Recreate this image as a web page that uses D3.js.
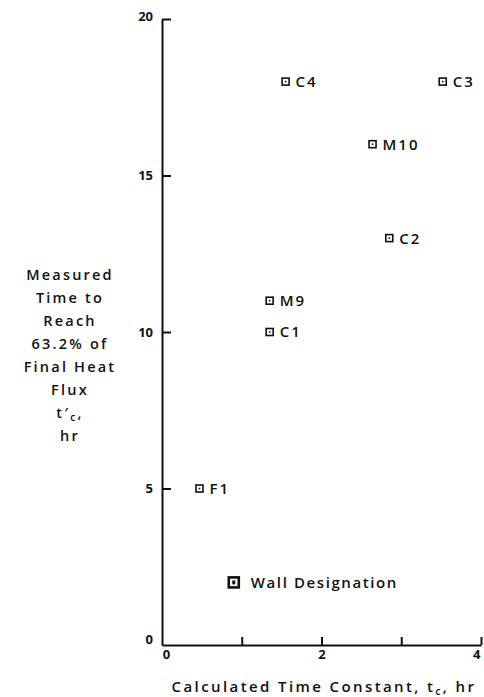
<!DOCTYPE html>
<html>
<head>
<meta charset="utf-8">
<script src="https://cdn.jsdelivr.net/npm/d3@7"></script>
<style>
  html, body { margin: 0; padding: 0; background: #fff; }
  svg { display: block; }
  text { font-family: "Open Sans", "DejaVu Sans", sans-serif; font-weight: 600; fill: #111; }
</style>
</head>
<body>
<svg id="chart" width="484" height="697"></svg>
<script>
// Wall designations with calculated and measured time constants (hr)
const walls = ["C4", "C3", "M10", "C2", "M9", "C1", "F1"];
const calcTc = [1.55, 3.52, 2.64, 2.85, 1.35, 1.35, 0.47];
const measTc = [18, 18, 16, 13, 11, 10, 5];

const xTicks = [0, 1, 2, 3, 4];
const xTickLabels = ["0", "", "2", "", "4"];
const yTicks = [0, 5, 10, 15, 20];
const yTickLabels = ["0", "5", "10", "15", "20"];

const yLabelLines = ["Measured", "Time to", "Reach", "63.2% of", "Final Heat", "Flux"];

const svg = d3.select("#chart");
const ink = "#111";

const x = d3.scaleLinear().domain([0, 4]).range([162, 481]);
const y = d3.scaleLinear().domain([0, 20]).range([645, 19]);

// y axis: ticks point into the plot
const yAxis = svg.append("g")
  .attr("transform", `translate(${x(0)},0)`)
  .call(d3.axisLeft(y).tickValues(yTicks).tickSize(-9).tickSizeOuter(0)
    .tickPadding(9).tickFormat((d, i) => yTickLabels[i]));
yAxis.select(".domain").attr("stroke", ink).attr("stroke-width", 2);
yAxis.selectAll(".tick line").attr("stroke", ink).attr("stroke-width", 2)
  .filter(d => d === 0).remove();
yAxis.selectAll(".tick text")
  .style("font-size", "13px").style("font-weight", "bold").style("fill", ink)
  .attr("dy", d => d === 0 ? "-0.1em" : d === 20 ? "0.1em" : "0.32em");

// x axis: ticks point into the plot
const xAxis = svg.append("g")
  .attr("transform", `translate(0,${y(0)})`)
  .call(d3.axisBottom(x).tickValues(xTicks).tickSize(-8).tickSizeOuter(0)
    .tickPadding(5).tickFormat((d, i) => xTickLabels[i]));
xAxis.select(".domain").attr("stroke", ink).attr("stroke-width", 2);
xAxis.selectAll(".tick line").attr("stroke", ink).attr("stroke-width", 2)
  .filter(d => d === 0).remove();
xAxis.selectAll(".tick text")
  .style("font-size", "13px").style("font-weight", "bold").style("fill", ink)
  .attr("dx", d => d === 0 ? 4 : d === 4 ? -1 : 0)
  .attr("text-anchor", d => d === 4 ? "end" : "middle");

// data markers: small open squares with a centre dot
const pts = svg.append("g").selectAll("g").data(walls).join("g")
  .attr("transform", (d, i) => `translate(${x(calcTc[i])},${y(measTc[i])})`);
pts.append("rect").attr("x", -3.5).attr("y", -3.5).attr("width", 7).attr("height", 7)
  .attr("fill", "#fff").attr("stroke", ink).attr("stroke-width", 1.6);
pts.append("rect").attr("x", -0.8).attr("y", -0.8).attr("width", 1.6).attr("height", 1.6)
  .attr("fill", ink);
pts.append("text").attr("x", 10).attr("y", 0).attr("dy", "0.36em")
  .attr("font-size", 15).attr("letter-spacing", 2)
  .text(d => d);

// legend
const leg = svg.append("g").attr("transform", `translate(${x(0.9)},${y(2)})`);
leg.append("rect").attr("x", -5).attr("y", -5).attr("width", 10).attr("height", 10)
  .attr("fill", "#fff").attr("stroke", ink).attr("stroke-width", 2.6);
leg.append("rect").attr("x", -1.5).attr("y", -2).attr("width", 3).attr("height", 4).attr("fill", ink);
leg.append("text").attr("x", 17).attr("dy", "0.36em")
  .attr("font-size", 15).attr("letter-spacing", 1.6)
  .text("Wall  Designation");

// y axis title
const yl = svg.append("text").attr("text-anchor", "middle")
  .attr("font-size", 14.5).attr("letter-spacing", 2.2);
yLabelLines.forEach((s, i) => {
  yl.append("tspan").attr("x", 70).attr("y", 280 + i * 23).text(s);
});
const tl = yl.append("tspan").attr("x", 70).attr("y", 280 + 6 * 23);
tl.append("tspan").text("t′");
tl.append("tspan").attr("font-size", 10).attr("dy", 3).text("c");
tl.append("tspan").attr("dy", -3).text(",");
yl.append("tspan").attr("x", 70).attr("y", 280 + 7 * 23).text("hr");

// x axis title
const xl = svg.append("text").attr("x", 324).attr("y", 692).attr("text-anchor", "middle")
  .attr("font-size", 15).attr("letter-spacing", 2.4);
xl.append("tspan").text("Calculated  Time Constant, t");
xl.append("tspan").attr("font-size", 10).attr("dy", 3).text("c");
xl.append("tspan").attr("dy", -3).text(",  hr");
</script>
</body>
</html>
